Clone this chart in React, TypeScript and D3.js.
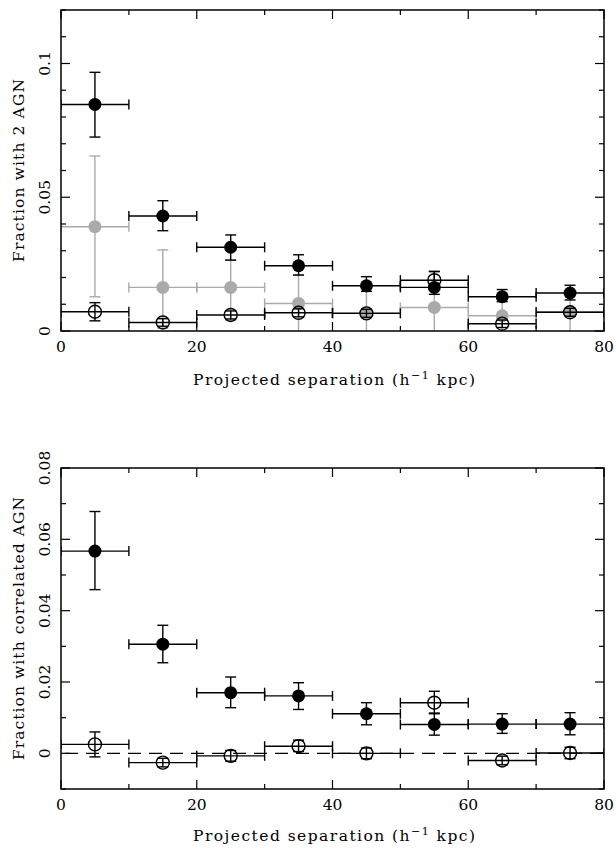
import React from "react";
import * as d3 from "d3";

// bin centres (kpc), each bin is 10 kpc wide
const binCentres = [5, 15, 25, 35, 45, 55, 65, 75];
const binHalf = 5;

// top panel: fraction with 2 AGN
const pairAll = [0.0847, 0.043, 0.0313, 0.0244, 0.0169, 0.0163, 0.0128, 0.0142];
const pairAllLo = [0.0725, 0.0375, 0.0265, 0.0209, 0.0148, 0.0137, 0.011, 0.0116];
const pairAllHi = [0.0967, 0.0487, 0.0359, 0.0285, 0.0203, 0.0222, 0.0155, 0.0171];

const pairGrey = [0.039, 0.0163, 0.0163, 0.0103, 0.0068, 0.0088, 0.0057, 0.0072];
const pairGreyLo = [0.0128, 0.001, 0.004, -0.002, -0.002, -0.002, -0.002, -0.002];
const pairGreyHi = [0.0654, 0.0303, 0.0265, 0.021, 0.016, 0.019, 0.011, 0.013];

const pairOpen = [0.0072, 0.0032, 0.006, 0.0068, 0.0066, 0.019, 0.0027, 0.007];
const pairOpenLo = [0.0038, 0.0018, 0.0045, 0.0053, 0.0051, 0.0162, 0.0013, 0.0055];
const pairOpenHi = [0.0106, 0.0046, 0.0075, 0.0083, 0.0081, 0.0223, 0.0041, 0.0085];

// bottom panel: fraction with correlated AGN
const corrFilled = [0.0567, 0.0306, 0.017, 0.0161, 0.0111, 0.0081, 0.0082, 0.0082];
const corrFilledLo = [0.0459, 0.0254, 0.0128, 0.0123, 0.008, 0.0051, 0.0056, 0.0052];
const corrFilledHi = [0.0678, 0.0359, 0.0214, 0.0198, 0.0142, 0.0113, 0.0111, 0.0114];

const corrOpen = [0.0025, -0.0026, -0.0007, 0.002, 0.0, 0.0142, -0.002, 0.0001];
const corrOpenLo = [-0.001, -0.0038, -0.0022, 0.0005, -0.0015, 0.0111, -0.0032, -0.0015];
const corrOpenHi = [0.006, -0.0014, 0.0008, 0.0037, 0.0015, 0.0174, -0.0008, 0.0017];

const topYTicks = [0, 0.05, 0.1];
const topYLabels = ["0", "0.05", "0.1"];
const bottomYTicks = [0, 0.02, 0.04, 0.06, 0.08];
const bottomYLabels = ["0", "0.02", "0.04", "0.06", "0.08"];
const xTicks = [0, 20, 40, 60, 80];

const FONT = "'DejaVu Serif', serif";
const GREY = "#aaaaaa";

type Series = {
  y: number[];
  lo: number[];
  hi: number[];
  kind: "filled" | "grey" | "open";
};

type PanelProps = {
  id: string;
  top: number;
  bottom: number;
  yDomain: [number, number];
  yMinorStep: number;
  yTicks: number[];
  yLabels: string[];
  yTitle: string;
  yTitleLength: number;
  xTitleGap: number;
  series: Series[];
  zeroLine?: boolean;
};

const left = 61;
const right = 604;

function Panel(p: PanelProps) {
  const x = d3.scaleLinear().domain([0, 80]).range([left, right]);
  const y = d3.scaleLinear().domain(p.yDomain).range([p.bottom, p.top]);
  const xMinor = d3.range(0, 81, 10);
  const yMinor = d3.range(
    Math.ceil(p.yDomain[0] / p.yMinorStep - 1e-6),
    Math.floor(p.yDomain[1] / p.yMinorStep + 1e-6) + 1
  ).map((k) => k * p.yMinorStep);
  const isMajorY = (v: number) => p.yTicks.some((t) => Math.abs(t - v) < 1e-9);
  const isMajorX = (v: number) => xTicks.includes(v);
  const cap = 5;
  const r = 6.5;

  const drawSeries = (s: Series, si: number) => {
    const colour = s.kind === "grey" ? GREY : "#000";
    return (
      <g key={si} stroke={colour} strokeWidth={1.4} fill="none">
        {binCentres.map((c, i) => {
          const cx = x(c);
          const cy = y(s.y[i]);
          const x0 = x(c - binHalf);
          const x1 = x(c + binHalf);
          const yl = y(s.lo[i]);
          const yh = y(s.hi[i]);
          return (
            <g key={i}>
              <line x1={x0} x2={x1} y1={cy} y2={cy} />
              <line x1={x0} x2={x0} y1={cy - cap} y2={cy + cap} />
              <line x1={x1} x2={x1} y1={cy - cap} y2={cy + cap} />
              <line x1={cx} x2={cx} y1={yl} y2={yh} />
              <line x1={cx - cap - 0.5} x2={cx + cap + 0.5} y1={yl} y2={yl} />
              <line x1={cx - cap - 0.5} x2={cx + cap + 0.5} y1={yh} y2={yh} />
              {s.kind === "open" ? (
                <circle cx={cx} cy={cy} r={r} stroke="#000" fill="none" />
              ) : (
                <circle cx={cx} cy={cy} r={r} stroke="none" fill={colour} />
              )}
            </g>
          );
        })}
      </g>
    );
  };

  const midY = (p.top + p.bottom) / 2;

  return (
    <g>
      <defs>
        <clipPath id={p.id}>
          <rect x={left} y={p.top} width={right - left} height={p.bottom - p.top} />
        </clipPath>
      </defs>
      <g clipPath={`url(#${p.id})`}>
        {p.zeroLine && (
          <line
            x1={x(0)}
            x2={x(80)}
            y1={y(0)}
            y2={y(0)}
            stroke="#000"
            strokeWidth={1.2}
            strokeDasharray="13 8"
            strokeDashoffset={-4}
          />
        )}
        {p.series.map(drawSeries)}
      </g>
      {/* frame */}
      <rect
        x={left}
        y={p.top}
        width={right - left}
        height={p.bottom - p.top}
        fill="none"
        stroke="#000"
        strokeWidth={1.5}
      />
      {/* ticks, drawn inward */}
      <g stroke="#000" strokeWidth={1.2}>
        {xMinor.map((v) => {
          const len = isMajorX(v) ? 9 : 5;
          return (
            <g key={"x" + v}>
              <line x1={x(v)} x2={x(v)} y1={p.bottom} y2={p.bottom - len} />
              <line x1={x(v)} x2={x(v)} y1={p.top} y2={p.top + len} />
            </g>
          );
        })}
        {yMinor.map((v) => {
          const len = isMajorY(v) ? 9 : 5;
          return (
            <g key={"y" + v}>
              <line x1={left} x2={left + len} y1={y(v)} y2={y(v)} />
              <line x1={right} x2={right - len} y1={y(v)} y2={y(v)} />
            </g>
          );
        })}
      </g>
      {/* tick labels */}
      <g fontFamily={FONT} fontSize={15.5} fill="#000">
        {xTicks.map((v) => (
          <text key={"xl" + v} x={x(v)} y={p.bottom + 20.5} textAnchor="middle">
            {v}
          </text>
        ))}
        {p.yTicks.map((v, i) => (
          <text
            key={"yl" + v}
            transform={`translate(50,${y(v)}) rotate(-90)`}
            textAnchor="middle"
          >
            {p.yLabels[i]}
          </text>
        ))}
        <text
          transform={`translate(24,${midY}) rotate(-90)`}
          textAnchor="middle"
          textLength={p.yTitleLength}
          lengthAdjust="spacing"
        >
          {p.yTitle}
        </text>
        <text
          x={334}
          y={p.bottom + p.xTitleGap}
          textAnchor="middle"
          textLength={282}
          lengthAdjust="spacing"
        >
          Projected separation (h
          <tspan dy={-6} fontSize={11}>
            −1
          </tspan>
          <tspan dy={6}> kpc)</tspan>
        </text>
      </g>
    </g>
  );
}

export default function App() {
  return (
    <svg
      width={616}
      height={848}
      style={{ position: "absolute", left: 0, top: 0, background: "#fff" }}
    >
      <Panel
        id="clipTop"
        top={10}
        bottom={331}
        yDomain={[0, 0.12]}
        yMinorStep={0.01}
        yTicks={topYTicks}
        yLabels={topYLabels}
        yTitle="Fraction with 2 AGN"
        yTitleLength={183}
        xTitleGap={54}
        series={[
          { y: pairGrey, lo: pairGreyLo, hi: pairGreyHi, kind: "grey" },
          { y: pairAll, lo: pairAllLo, hi: pairAllHi, kind: "filled" },
          { y: pairOpen, lo: pairOpenLo, hi: pairOpenHi, kind: "open" },
        ]}
      />
      <Panel
        id="clipBottom"
        top={468}
        bottom={789}
        yDomain={[-0.01, 0.08]}
        yMinorStep={0.01}
        yTicks={bottomYTicks}
        yLabels={bottomYLabels}
        yTitle="Fraction with correlated AGN"
        yTitleLength={263}
        xTitleGap={52}
        zeroLine
        series={[
          { y: corrFilled, lo: corrFilledLo, hi: corrFilledHi, kind: "filled" },
          { y: corrOpen, lo: corrOpenLo, hi: corrOpenHi, kind: "open" },
        ]}
      />
    </svg>
  );
}
